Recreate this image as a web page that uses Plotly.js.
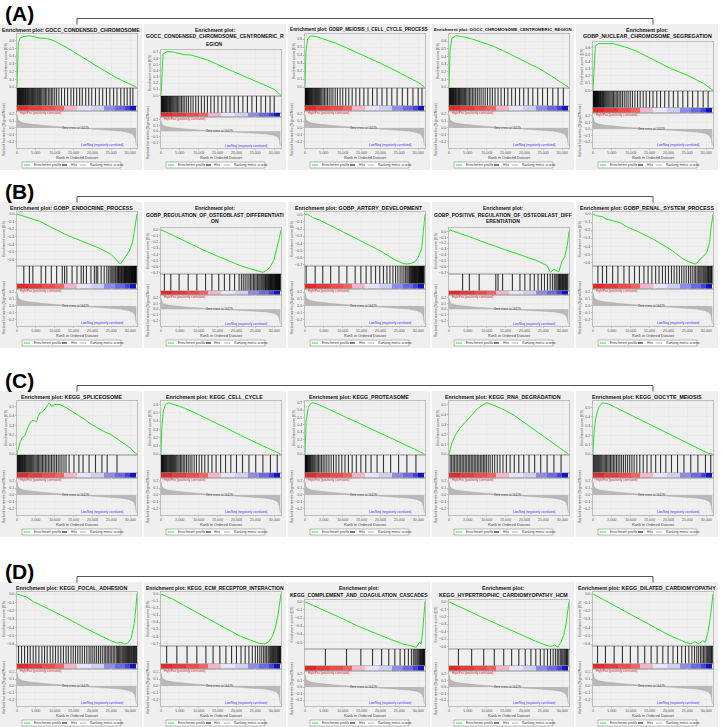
<!DOCTYPE html>
<html><head><meta charset="utf-8">
<script src="https://cdn.plot.ly/plotly-3.0.1.min.js"></script>
<style>html,body{margin:0;padding:0;background:#fff}#chart{width:721px;height:727px}</style>
</head><body><div id="chart"></div>
<script>
// ---------------- DATA ----------------
const rowLabels = ['(A)', '(B)', '(C)', '(D)'];
const xTickVals = [0, 5000, 10000, 15000, 20000, 25000, 30000];
const xTickText = ['0', '5,000', '10,000', '15,000', '20,000', '25,000', '30,000'];
const metricTickVals = [-0.2, -0.1, 0, 0.1, 0.2];

// ranked list metric (shared by all panels)
const metricRank = [0, 100, 300, 700, 1500, 3000, 5000, 8000, 11000, 14000, 16700, 19000, 22000, 25000, 27500, 29500, 30500, 31100, 31400, 31600];
const metricValue = [0.19, 0.15, 0.12, 0.095, 0.075, 0.06, 0.045, 0.03, 0.018, 0.008, 0, -0.008, -0.018, -0.03, -0.045, -0.065, -0.085, -0.12, -0.17, -0.26];

// colour bar blocks
const cbEdges = [0, 3000, 6500, 10000, 12500, 16000, 19500, 23000, 26000, 28500, 30000, 31500];
const cbColors = ['#e02b2b', '#e63b3b', '#ea4d4d', '#ee6464', '#f2b4cc', '#e4e4fa', '#cfcff5', '#8c8ce8', '#6a6ae0', '#4646d6', '#1414c0'];

const titles = [
  ['Enrichment plot: GOCC_CONDENSED_CHROMOSOME'],
  ['Enrichment plot:', 'GOCC_CONDENSED_CHROMOSOME_CENTROMERIC_R', 'EGION'],
  ['Enrichment plot: GOBP_MEIOSIS_I_CELL_CYCLE_PROCESS'],
  ['Enrichment plot: GOCC_CHROMOSOME_CENTROMERIC_REGION'],
  ['Enrichment plot:', 'GOBP_NUCLEAR_CHROMOSOME_SEGREGATION'],
  ['Enrichment plot: GOBP_ENDOCRINE_PROCESS'],
  ['Enrichment plot:', 'GOBP_REGULATION_OF_OSTEOBLAST_DIFFERENTIATI', 'ON'],
  ['Enrichment plot: GOBP_ARTERY_DEVELOPMENT'],
  ['Enrichment plot:', 'GOBP_POSITIVE_REGULATION_OF_OSTEOBLAST_DIFF', 'ERENTIATION'],
  ['Enrichment plot: GOBP_RENAL_SYSTEM_PROCESS'],
  ['Enrichment plot: KEGG_SPLICEOSOME'],
  ['Enrichment plot: KEGG_CELL_CYCLE'],
  ['Enrichment plot: KEGG_PROTEASOME'],
  ['Enrichment plot: KEGG_RNA_DEGRADATION'],
  ['Enrichment plot: KEGG_OOCYTE_MEIOSIS'],
  ['Enrichment plot: KEGG_FOCAL_ADHESION'],
  ['Enrichment plot: KEGG_ECM_RECEPTOR_INTERACTION'],
  ['Enrichment plot:', 'KEGG_COMPLEMENT_AND_COAGULATION_CASCADES'],
  ['Enrichment plot:', 'KEGG_HYPERTROPHIC_CARDIOMYOPATHY_HCM'],
  ['Enrichment plot: KEGG_DILATED_CARDIOMYOPATHY']
];

// running enrichment score curves
const esRankA1 = [0, 80, 350, 800, 1700, 3450, 4770, 6100, 7860, 9620, 13170, 17570, 22000, 26400, 29060, 31700];
const esScoreA1 = [0, 0.15, 0.57, 0.63, 0.65, 0.66, 0.645, 0.63, 0.625, 0.6, 0.51, 0.375, 0.245, 0.12, 0.06, 0];
const esRankA2 = [0, 530, 1600, 3360, 6030, 7810, 10030, 12260, 16700, 21140, 25590, 30020, 31800];
const esScoreA2 = [0, 0.67, 0.71, 0.70, 0.66, 0.655, 0.617, 0.574, 0.452, 0.333, 0.218, 0.098, 0];
const esRankA3 = [0, 250, 700, 1500, 3000, 5000, 8000, 11000, 15000, 19000, 23000, 27000, 30000, 31700];
const esScoreA3 = [0, 0.45, 0.6, 0.64, 0.63, 0.6, 0.55, 0.49, 0.41, 0.32, 0.23, 0.13, 0.06, 0];
const esRankA4 = [0, 300, 800, 1800, 3500, 6000, 9000, 12000, 15000, 18000, 21000, 24000, 27000, 30000, 31700];
const esScoreA4 = [0, 0.5, 0.64, 0.67, 0.66, 0.63, 0.58, 0.53, 0.46, 0.39, 0.32, 0.24, 0.15, 0.06, 0];
const esRankA5 = [0, 610, 1480, 5460, 7230, 9430, 11660, 16060, 20490, 24910, 29330, 31800];
const esScoreA5 = [0, 0.62, 0.652, 0.652, 0.624, 0.59, 0.543, 0.425, 0.307, 0.213, 0.095, 0];

const esRankB1 = [0, 880, 2660, 4440, 6210, 8880, 13330, 17770, 22200, 24870, 26650, 27360, 27980, 28870, 29760, 30650, 31100, 31540, 31800];
const esScoreB1 = [0, -0.014, -0.05, -0.08, -0.1, -0.17, -0.28, -0.37, -0.46, -0.53, -0.62, -0.66, -0.62, -0.56, -0.49, -0.37, -0.24, -0.06, 0];
const esRankB2 = [0, 1000, 3000, 6000, 9000, 12000, 15000, 18000, 21000, 24000, 26000, 27000, 28000, 29000, 30000, 30800, 31400, 31800];
const esScoreB2 = [0, -0.03, -0.08, -0.17, -0.26, -0.35, -0.43, -0.51, -0.58, -0.64, -0.68, -0.69, -0.66, -0.6, -0.48, -0.3, -0.12, 0];
const esRankB3 = [0, 620, 1960, 3740, 6410, 10870, 15320, 19780, 23340, 26010, 26900, 28240, 29130, 30020, 30910, 31350, 31620, 31800];
const esScoreB3 = [0, 0.01, -0.038, -0.071, -0.143, -0.262, -0.381, -0.5, -0.619, -0.681, -0.69, -0.681, -0.657, -0.595, -0.476, -0.286, -0.095, 0];
const esRankB4 = [0, 300, 900, 2690, 4480, 5380, 9860, 14340, 18820, 23300, 25990, 26880, 27780, 28670, 29120, 29600, 30020, 30640, 31360, 31800];
const esScoreB4 = [0, 0.03, 0.01, -0.028, -0.063, -0.09, -0.2, -0.3, -0.4, -0.5, -0.585, -0.7, -0.65, -0.68, -0.69, -0.58, -0.5, -0.44, -0.24, 0];
const esRankB5 = [0, 710, 2500, 3390, 5180, 6970, 9200, 11430, 15890, 20360, 23930, 25720, 27060, 27510, 28400, 29290, 30180, 30900, 31260, 31800];
const esScoreB5 = [0, -0.02, -0.033, -0.062, -0.083, -0.103, -0.165, -0.207, -0.31, -0.434, -0.558, -0.6, -0.62, -0.61, -0.558, -0.525, -0.475, -0.35, -0.186, 0];

const esRankC1 = [0, 900, 1440, 2050, 2930, 3570, 4270, 5160, 5600, 6040, 6930, 7820, 8530, 9170, 10040, 11370, 13150, 15370, 17580, 19360, 21140, 22910, 24690, 26020, 26910, 28230, 30020, 31350, 31800];
const esScoreC1 = [0, 0.138, 0.174, 0.192, 0.283, 0.337, 0.355, 0.337, 0.391, 0.428, 0.446, 0.5, 0.536, 0.5, 0.518, 0.518, 0.482, 0.428, 0.373, 0.319, 0.275, 0.239, 0.21, 0.174, 0.156, 0.12, 0.065, 0.011, 0];
const esRankC2 = [0, 200, 600, 1200, 2000, 3500, 6000, 9000, 12000, 15000, 18000, 21000, 24000, 27000, 30000, 31700];
const esScoreC2 = [0, 0.3, 0.52, 0.6, 0.62, 0.6, 0.56, 0.5, 0.43, 0.36, 0.3, 0.23, 0.16, 0.1, 0.04, 0];
const esRankC3 = [0, 300, 900, 1800, 3000, 5000, 8000, 11000, 14000, 17000, 20000, 23000, 26000, 29000, 31700];
const esScoreC3 = [0, 0.45, 0.65, 0.7, 0.69, 0.64, 0.57, 0.5, 0.43, 0.36, 0.28, 0.21, 0.14, 0.07, 0];
const esRankC4 = [0, 800, 1800, 3000, 4500, 6000, 7500, 9000, 10000, 11500, 14000, 17000, 20000, 23000, 26000, 29000, 31700];
const esScoreC4 = [0, 0.12, 0.2, 0.27, 0.33, 0.4, 0.46, 0.5, 0.52, 0.5, 0.46, 0.4, 0.32, 0.24, 0.16, 0.08, 0];
const esRankC5 = [0, 300, 800, 1500, 2500, 4000, 6000, 9000, 12000, 15000, 18000, 21000, 24000, 27000, 29500, 30500, 31700];
const esScoreC5 = [0, 0.25, 0.4, 0.5, 0.55, 0.54, 0.5, 0.44, 0.38, 0.32, 0.26, 0.2, 0.14, 0.08, 0.03, 0.01, 0];

const esRankD1 = [0, 710, 2520, 4290, 6070, 8750, 13240, 17690, 22150, 24830, 26620, 27500, 28400, 29300, 30190, 31080, 31530, 31800];
const esScoreD1 = [0, -0.008, -0.037, -0.09, -0.13, -0.19, -0.29, -0.4, -0.5, -0.56, -0.59, -0.58, -0.6, -0.59, -0.54, -0.355, -0.15, 0];
const esRankD2 = [0, 1000, 3000, 6000, 9000, 12000, 15000, 18000, 21000, 24000, 26000, 27500, 28500, 29500, 30300, 31000, 31500, 31800];
const esScoreD2 = [0, -0.02, -0.07, -0.16, -0.25, -0.34, -0.43, -0.52, -0.6, -0.66, -0.7, -0.71, -0.68, -0.6, -0.48, -0.3, -0.12, 0];
const esRankD3 = [0, 2000, 5000, 8000, 11000, 14000, 17000, 20000, 23000, 26000, 28000, 29500, 30300, 30800, 31200, 31500, 31800];
const esScoreD3 = [0, -0.04, -0.1, -0.17, -0.23, -0.3, -0.36, -0.42, -0.47, -0.52, -0.54, -0.56, -0.5, -0.52, -0.35, -0.15, 0];
const esRankD4 = [0, 2000, 5000, 8000, 11000, 14000, 17000, 20000, 23000, 25500, 27000, 28000, 28800, 29600, 30400, 31000, 31500, 31800];
const esScoreD4 = [0, -0.05, -0.12, -0.19, -0.26, -0.33, -0.4, -0.47, -0.53, -0.58, -0.6, -0.58, -0.61, -0.55, -0.45, -0.3, -0.12, 0];
const esRankD5 = [0, 2000, 5000, 8000, 11000, 14000, 17000, 20000, 22500, 24500, 26000, 27000, 28000, 29000, 29800, 30500, 31100, 31500, 31800];
const esScoreD5 = [0, -0.05, -0.12, -0.2, -0.27, -0.35, -0.42, -0.49, -0.54, -0.58, -0.6, -0.57, -0.6, -0.56, -0.58, -0.45, -0.28, -0.1, 0];

// hit positions (rank of each gene-set member)
const hitsA1 = [60,200,330,480,610,760,900,1050,1200,1380,1530,1700,1880,2050,2230,2420,2600,2800,3000,3220,3430,3650,3880,4100,4350,4600,4850,5100,5400,5650,5950,6250,6550,6900,7200,7550,7900,8300,8700,9100,9500,10000,10500,11100,11800,12600,13400,14300,15000,15800,16600,17300,18200,19000,19800,20800,21800,22700,23700,24600,25600,26500,27500,28400,29200,30000,30700];
const hitsA2 = [50,170,290,420,560,700,850,1000,1160,1330,1500,1680,1870,2070,2280,2500,2730,2970,3220,3480,3750,4050,4350,4700,5050,5450,5850,6300,6800,7300,7900,8500,9200,9900,10700,11500,12300,13200,14100,15100,16100,17200,18300,19400,20500,21700,22900,24100,25300,26500,27700,28900,30000];
const hitsA3 = [40,150,270,390,520,650,790,930,1080,1240,1400,1570,1750,1940,2140,2350,2570,2800,3050,3300,3570,3850,4150,4450,4800,5150,5550,5950,6400,6900,7400,8000,8600,9300,10000,10800,11600,12500,13500,14500,15600,16700,17900,19100,20400,21700,23000,24400,25800,27200,28600,30000,31000];
const hitsA4 = [80,200,330,460,600,740,890,1040,1200,1370,1540,1720,1910,2110,2320,2540,2770,3010,3260,3520,3800,4090,4400,4720,5060,5420,5800,6200,6620,7060,7520,8000,8500,9050,9600,10200,10850,11500,12200,13000,13800,14700,15600,16600,17600,18700,19800,21000,22200,23500,24800,26100,27500,28900,30300];
const hitsA5 = [30,120,220,320,430,540,660,780,910,1040,1180,1330,1480,1640,1810,1980,2160,2350,2550,2760,2980,3200,3440,3690,3950,4220,4500,4800,5110,5440,5790,6150,6530,6930,7350,7800,8280,8780,9300,9860,10450,11100,11800,12500,13300,14100,15000,15900,16900,17900,19000,20100,21300,22500,23800,25100,26400,27800,29200,30500];
const hitsB1 = [1800,3300,4200,6400,7600,9100,10500,12000,12600,13200,14600,15900,17000,17600,18400,19600,20500,21000,21400,22300,23100,23800,24300,24700,25100,25400,25700,26000,26200,26500,26700,26900,27100,27300,27500,27700,27900,28100,28300,28450,28600,28750,28900,29050,29200,29350,29500,29650,29800,29950,30100,30250,30350,30500,30600,30750,30850,31000,31100,31200,31300,31400,31500,31600];
const hitsB2 = [900,2600,4800,7200,9500,11800,13500,15300,16800,18200,19500,20700,21300,21800,22300,22800,23300,23700,24100,24500,24850,25200,25550,25900,26200,26500,26750,27000,27250,27500,27700,27900,28100,28300,28500,28700,28850,29000,29150,29300,29450,29600,29750,29900,30050,30200,30350,30450,30600,30700,30850,30950,31100,31200,31300,31400,31500,31600];
const hitsB3 = [300,2700,4700,6800,9000,11100,13300,14800,16200,17500,18700,19800,20800,21700,22500,23300,24000,24600,25200,25700,26200,26600,27000,27300,27600,27800,28000,28200,28400,28550,28700,28850,29000,29150,29300,29450,29600,29750,29900,30050,30200,30350,30450,30600,30700,30850,30950,31100,31200,31300,31450,31550];
const hitsB4 = [3600,5400,8000,12400,13000,14200,16800,18800,20100,21500,22600,23600,24500,25300,26100,26800,27400,27900,28300,28600,28900,29100,29300,29500,29700,29900,30100,30300,30500,30700,30900,31100,31300,31500];
const hitsB5 = [1300,2500,3600,5200,6600,8200,9600,11000,12300,13500,14600,15600,16600,17500,18400,19200,20000,20800,21500,22200,22900,23500,24100,24700,25300,25800,26300,26800,27200,27600,28000,28300,28600,28900,29200,29450,29700,29950,30200,30400,30600,30800,31000,31200,31400,31550];
const hitsC1 = [60,200,350,500,650,800,960,1120,1290,1460,1640,1820,2010,2210,2420,2640,2870,3110,3360,3620,3890,4170,4460,4760,5070,5390,5720,6060,6410,6770,7140,7520,7910,8310,8720,9140,9570,10010,10460,10920,11400,11900,12450,13000,13800,15100,16400,17500,19100,20800,22500,23900,26500];
const hitsC2 = [50,170,300,430,570,720,880,1050,1230,1420,1620,1830,2050,2280,2520,2770,3030,3300,3580,3870,4170,4480,4800,5150,5500,5900,6300,6750,7200,7700,8200,8800,9400,10100,10800,11600,12500,13500,14600,15800,17100,18500,20000,21600,23300,25100,27000,29000,30800];
const hitsC3 = [40,150,270,400,540,690,850,1020,1200,1390,1600,1820,2060,2320,2600,2900,3230,3580,3960,4370,4810,5280,5790,6340,6930,7560,8240,8970,9760,10600,11500,12500,13600,14800,16100,17500,19100,20800,22700,24800,27000,29400];
const hitsC4 = [300,700,1100,1500,1900,2300,2700,3100,3500,3900,4300,4700,5100,5500,5900,6300,6700,7100,7500,7900,8300,8700,9100,9500,9900,10400,10900,11500,12100,12800,13500,14300,15200,16200,17300,18500,19800,21200,22700,24300,26000,27800,29700];
const hitsC5 = [100,300,520,750,990,1240,1500,1770,2050,2340,2640,2950,3270,3600,3940,4290,4650,5020,5400,5800,6220,6660,7120,7600,8100,8620,9160,9720,10300,10900,11600,12400,13300,14300,15400,16600,17900,19300,20800,22400,24100,25900,27800,29800,31200];
const hitsD1 = [400,1200,2000,2800,3500,4300,5000,5800,6600,7300,8000,8800,9500,10200,10900,11600,12300,13000,13600,14300,14900,15500,16100,16700,17300,17900,18500,19100,19600,20100,20600,21100,21600,22100,22600,23100,23500,23900,24300,24700,25100,25500,25900,26300,26600,26900,27200,27500,27800,28050,28300,28550,28800,29050,29300,29550,29800,30050,30300,30500,30700,30900,31100,31300,31500,31650];
const hitsD2 = [1500,4200,6900,9500,11900,13800,15600,17200,18700,20000,21200,22300,23300,24200,25000,25600,26200,26700,27200,27600,28000,28400,28700,29000,29300,29550,29800,30050,30300,30500,30700,30900,31100,31250,31400,31550,31650];
const hitsD3 = [5400,11000,14800,17900,20300,22200,23800,25200,26400,27400,28200,28700,29100,29400,29700,29950,30200,30400,30600,30800,30950,31100,31250,31400,31550,31650];
const hitsD4 = [2500,6000,9200,12000,14500,16600,18500,20200,21700,23000,24200,25200,26100,26900,27600,28200,28700,29100,29500,29850,30150,30450,30700,30950,31150,31350,31550];
const hitsD5 = [1200,3300,5600,7800,9900,11900,13700,15400,17000,18500,19900,21200,22400,23500,24500,25400,26200,26900,27500,28000,28500,28900,29300,29650,30000,30300,30550,30800,31050,31250,31450,31600];

const esRanks = [esRankA1, esRankA2, esRankA3, esRankA4, esRankA5, esRankB1, esRankB2, esRankB3, esRankB4, esRankB5, esRankC1, esRankC2, esRankC3, esRankC4, esRankC5, esRankD1, esRankD2, esRankD3, esRankD4, esRankD5];
const esScores = [esScoreA1, esScoreA2, esScoreA3, esScoreA4, esScoreA5, esScoreB1, esScoreB2, esScoreB3, esScoreB4, esScoreB5, esScoreC1, esScoreC2, esScoreC3, esScoreC4, esScoreC5, esScoreD1, esScoreD2, esScoreD3, esScoreD4, esScoreD5];
const hitLists = [hitsA1, hitsA2, hitsA3, hitsA4, hitsA5, hitsB1, hitsB2, hitsB3, hitsB4, hitsB5, hitsC1, hitsC2, hitsC3, hitsC4, hitsC5, hitsD1, hitsD2, hitsD3, hitsD4, hitsD5];

// ---------------- LAYOUT / DRAWING ----------------
const W = 721, H = 727;
const FONT = 'Liberation Sans, Arial, sans-serif';
const XMAX = 31800;
const rowTops = [24, 202, 391, 582];
const boxX = [0, 144, 288, 432, 576];
const boxW = 142, boxH = 146;
const geo = {
  1: {es: [10, 64], hit: [64, 82], cb: [82, 87], met: [87, 124]},
  2: {es: [18, 67], hit: [67, 84], cb: [84, 89], met: [89, 124]},
  3: {es: [26, 72], hit: [72, 89], cb: [89, 93], met: [93, 124]}
};
const px = v => v / W, py = v => 1 - v / H;
const sfx = id => id === 1 ? '' : String(id);

// title font size fitted to the panel width
const mctx = document.createElement('canvas').getContext('2d');
mctx.font = 'bold 10px "Liberation Sans", Arial, sans-serif';
const fitSize = lines => {
  const w = Math.max(...lines.map(s => mctx.measureText(s).width));
  return Math.min(5.3, 10 * 138 / w);
};

const traces = [];
const layout = {
  width: W, height: H, margin: {l: 0, r: 0, t: 0, b: 0},
  paper_bgcolor: '#ffffff', plot_bgcolor: '#ffffff', showlegend: false,
  font: {family: FONT, color: '#333'},
  shapes: [], annotations: []
};
const frame = {showline: true, mirror: true, linecolor: '#9c9c9c', linewidth: 0.6, zeroline: false, fixedrange: true};
const tickF = {size: 3.6, color: '#555', family: FONT};

// row labels and brackets
rowTops.forEach((rt, r) => {
  layout.annotations.push({xref: 'paper', yref: 'paper', x: px(3), y: py(rt - 11), xanchor: 'left', yanchor: 'middle',
    text: '<b>' + rowLabels[r] + '</b>', showarrow: false, font: {size: 21, color: '#000', family: FONT}});
  layout.shapes.push({type: 'path', xref: 'paper', yref: 'paper', layer: 'above',
    path: `M ${px(77)} ${py(rt + 0.5)} L ${px(77)} ${py(rt - 5.5)} L ${px(653)} ${py(rt - 5.5)} L ${px(653)} ${py(rt + 0.5)}`,
    line: {color: '#555', width: 1}});
});

for (let p = 0; p < 20; p++) {
  const r = Math.floor(p / 5), c = p % 5;
  const bx = boxX[c], rt = rowTops[r];
  const tl = titles[p];
  const g = geo[tl.length];
  const L = bx + 17, R = bx + 137;
  const xd = [px(L), px(R)];
  const yd = (a, b) => [py(rt + b), py(rt + a)];
  const ids = [4 * p + 1, 4 * p + 2, 4 * p + 3, 4 * p + 4];

  layout.shapes.push({type: 'rect', xref: 'paper', yref: 'paper', layer: 'below',
    x0: px(bx), x1: px(bx + boxW), y0: Math.max(0, py(rt + boxH)), y1: py(rt),
    fillcolor: '#efefef', line: {width: 0}});

  const es = esScores[p];
  const lo = Math.min(0, ...es), hi = Math.max(0, ...es), span = hi - lo;
  const esRange = lo < -0.05 ? [lo - 0.04 * span, hi + 0.04 * span] : [lo - 0.015 * span, hi + 0.035 * span];

  layout['xaxis' + sfx(ids[0])] = Object.assign({}, frame, {domain: xd, anchor: 'y' + sfx(ids[0]), range: [0, XMAX],
    tickvals: xTickVals, showticklabels: false, ticks: '', showgrid: true, gridcolor: '#e6e6e6', gridwidth: 0.5});
  layout['yaxis' + sfx(ids[0])] = Object.assign({}, frame, {domain: yd(g.es[0], g.es[1]), anchor: 'x' + sfx(ids[0]),
    range: esRange, dtick: 0.1, tick0: 0, tickformat: '.1f', ticks: 'outside', ticklen: 1.5, tickwidth: 0.5, tickcolor: '#999',
    tickfont: tickF, showgrid: true, gridcolor: '#e6e6e6', gridwidth: 0.5,
    title: {text: 'Enrichment score (ES)', font: {size: 3.6, color: '#555'}, standoff: 1}});
  for (let k = 1; k <= 2; k++) {
    const dom = k === 1 ? g.hit : g.cb;
    layout['xaxis' + sfx(ids[k])] = Object.assign({}, frame, {domain: xd, anchor: 'y' + sfx(ids[k]), range: [0, XMAX],
      showticklabels: false, ticks: '', showgrid: false});
    layout['yaxis' + sfx(ids[k])] = Object.assign({}, frame, {domain: yd(dom[0], dom[1]), anchor: 'x' + sfx(ids[k]), range: [0, 1],
      showticklabels: false, ticks: '', showgrid: false});
  }
  layout['xaxis' + sfx(ids[3])] = Object.assign({}, frame, {domain: xd, anchor: 'y' + sfx(ids[3]), range: [0, XMAX],
    tickvals: xTickVals, ticktext: xTickText, ticks: 'outside', ticklen: 1.5, tickwidth: 0.5, tickcolor: '#999', tickfont: tickF,
    showgrid: true, gridcolor: '#e6e6e6', gridwidth: 0.5,
    title: {text: 'Rank in Ordered Dataset', font: {size: 3.8, color: '#444'}, standoff: 1}});
  layout['yaxis' + sfx(ids[3])] = Object.assign({}, frame, {domain: yd(g.met[0], g.met[1]), anchor: 'x' + sfx(ids[3]),
    range: [-0.29, 0.245], tickvals: metricTickVals, tickformat: '.1f', ticks: 'outside', ticklen: 1.5, tickwidth: 0.5, tickcolor: '#999',
    tickfont: tickF, showgrid: true, gridcolor: '#e6e6e6', gridwidth: 0.5,
    title: {text: 'Ranked list metric (Signal2Noise)', font: {size: 3.6, color: '#555'}, standoff: 1}});

  traces.push({type: 'scatter', mode: 'lines', x: esRanks[p], y: es, xaxis: 'x' + sfx(ids[0]), yaxis: 'y' + sfx(ids[0]),
    line: {color: '#22e622', width: 1}, hoverinfo: 'skip'});
  const hx = [], hy = [];
  hitLists[p].forEach(h => { hx.push(h, h, null); hy.push(0, 1, null); });
  traces.push({type: 'scatter', mode: 'lines', x: hx, y: hy, xaxis: 'x' + sfx(ids[1]), yaxis: 'y' + sfx(ids[1]),
    line: {color: 'rgba(0,0,0,0.78)', width: 1.1}, hoverinfo: 'skip'});
  traces.push({type: 'heatmap', x: cbEdges, y: [0, 1], z: [cbColors.map((_, i) => i)], zmin: 0, zmax: cbColors.length - 1,
    colorscale: cbColors.map((col, i) => [i / (cbColors.length - 1), col]), showscale: false,
    xaxis: 'x' + sfx(ids[2]), yaxis: 'y' + sfx(ids[2]), hoverinfo: 'skip'});
  traces.push({type: 'scatter', mode: 'lines', x: metricRank, y: metricValue, fill: 'tozeroy', fillcolor: '#b8b8b8',
    line: {color: '#a8a8a8', width: 0.5}, xaxis: 'x' + sfx(ids[3]), yaxis: 'y' + sfx(ids[3]), hoverinfo: 'skip'});

  const fs = fitSize(tl);
  tl.forEach((line, i) => {
    layout.annotations.push({xref: 'paper', yref: 'paper', x: px(bx + boxW / 2), y: py(rt + 5.5 + 7 * i),
      xanchor: 'center', yanchor: 'middle', text: '<b>' + line + '</b>', showarrow: false,
      font: {size: fs, color: '#111', family: FONT}});
  });
  layout.annotations.push({xref: 'paper', yref: 'paper', x: px(L + 1), y: py(rt + g.cb[1] + 2.3), xanchor: 'left', yanchor: 'middle',
    text: 'High/Pos (positively correlated)', showarrow: false, font: {size: 3, color: '#e02020', family: FONT}});
  layout.annotations.push({xref: 'x' + sfx(ids[3]), yref: 'y' + sfx(ids[3]), x: 15500, y: 0, xanchor: 'center', yanchor: 'middle',
    text: 'Zero cross at 16179', showarrow: false, font: {size: 3, color: '#333', family: FONT}});
  layout.annotations.push({xref: 'x' + sfx(ids[3]), yref: 'y' + sfx(ids[3]), x: 22400, y: -0.25, xanchor: 'center', yanchor: 'middle',
    text: 'Low/Neg (negatively correlated)', showarrow: false, font: {size: 3, color: '#3030ff', family: FONT}});

  const ly = rt + 141;
  layout.shapes.push({type: 'rect', xref: 'paper', yref: 'paper', layer: 'above', x0: px(bx + 22), x1: px(bx + 121),
    y0: py(ly + 3), y1: py(ly - 3), fillcolor: '#ffffff', line: {color: '#8a8a8a', width: 0.6}});
  const items = [[2, 8, '#22e622', 'Enrichment profile'], [40, 45, '#000000', 'Hits'], [58, 64, '#b0b0b0', 'Ranking metric scores']];
  items.forEach(it => {
    layout.shapes.push({type: 'line', xref: 'paper', yref: 'paper', layer: 'above', x0: px(bx + 22 + it[0]), x1: px(bx + 22 + it[1]),
      y0: py(ly), y1: py(ly), line: {color: it[2], width: 1}});
    layout.annotations.push({xref: 'paper', yref: 'paper', x: px(bx + 22 + it[1] + 1.5), y: py(ly), xanchor: 'left', yanchor: 'middle',
      text: it[3], showarrow: false, font: {size: 3.4, color: '#333', family: FONT}});
  });
}

Plotly.newPlot('chart', traces, layout, {staticPlot: true, displayModeBar: false});
</script>
</body></html>
